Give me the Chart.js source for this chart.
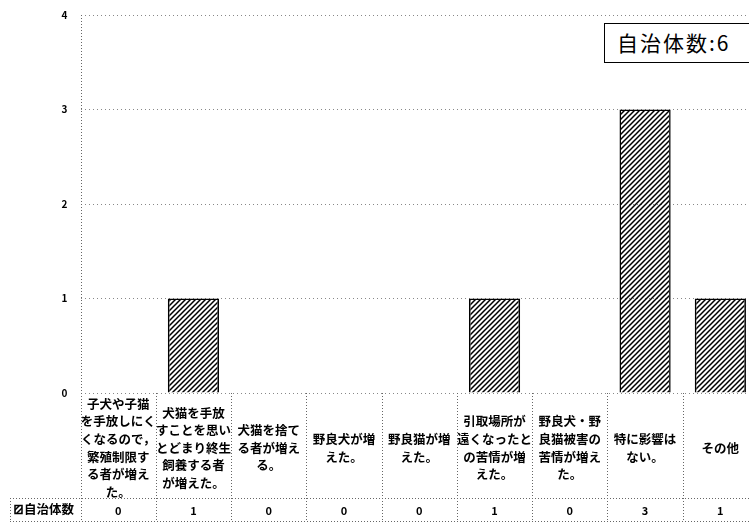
<!DOCTYPE html>
<html>
<head>
<meta charset="utf-8">
<script src="https://cdn.jsdelivr.net/npm/chart.js@4.4.1/dist/chart.umd.min.js"></script>
<style>
  html, body { margin: 0; padding: 0; background: #fff; overflow: hidden; }
  #wrap { position: relative; width: 762px; height: 525px; }
  #total {
    position: absolute; left: 604px; top: 23px; width: 160px; height: 40px;
    box-sizing: border-box; border: 1.5px solid #000; background: #fff;
    font: 21px "Noto Sans CJK JP"; letter-spacing: 2px; line-height: 37px;
    padding-left: 12px; color: #000;
  }
</style>
</head>
<body>
<div id="wrap">
  <canvas id="barChart" width="762" height="525"></canvas>
  <div id="total"></div>
</div>
<script>
// data
const categories = [
  ['子犬や子猫', 'を手放しにく', 'くなるので，', '繁殖制限す', 'る者が増え', 'た。'],
  ['犬猫を手放', 'すことを思い', 'とどまり終生', '飼養する者', 'が増えた。'],
  ['犬猫を捨て', 'る者が増え', 'る。'],
  ['野良犬が増', 'えた。'],
  ['野良猫が増', 'えた。'],
  ['引取場所が', '遠くなったと', 'の苦情が増', 'えた。'],
  ['野良犬・野', '良猫被害の', '苦情が増え', 'た。'],
  ['特に影響は', 'ない。'],
  ['その他']
];
const counts = [0, 1, 0, 0, 0, 1, 0, 3, 1];
const seriesName = '自治体数';
const totalText = '自治体数:6';
const yMin = 0, yMax = 4, yStep = 1;

document.getElementById('total').textContent = totalText;

const canvas = document.getElementById('barChart');
const ctx = canvas.getContext('2d');

// diagonal hatch like the printed chart
function makeHatch() {
  const c = document.createElement('canvas');
  c.width = 5; c.height = 5;
  const g = c.getContext('2d');
  g.strokeStyle = '#000';
  g.lineWidth = 1.5;
  g.beginPath();
  g.moveTo(-1, 6); g.lineTo(6, -1);
  g.moveTo(-1, 1); g.lineTo(1, -1);
  g.moveTo(4, 6); g.lineTo(6, 4);
  g.stroke();
  return ctx.createPattern(c, 'repeat');
}
const hatch = makeHatch();

const labelFont = { family: 'Noto Sans CJK JP', size: 12.5, weight: 'bold', lineHeight: 1.41 };

// column separators, table rules and row header
const tableLines = {
  id: 'tableLines',
  afterDraw(chart) {
    const { ctx, chartArea, scales: { x, x2 } } = chart;
    const step = x.getPixelForValue(1) - x.getPixelForValue(0);
    const left0 = x.getPixelForValue(0) - step / 2;
    ctx.save();
    ctx.strokeStyle = '#666';
    ctx.lineWidth = 1;
    ctx.setLineDash([1, 2]);
    for (let i = 0; i <= counts.length; i++) {
      const px = Math.round(left0 + i * step) + 0.5;
      ctx.beginPath();
      ctx.moveTo(px, i === 0 ? chartArea.top : chartArea.bottom);
      ctx.lineTo(px, x2.bottom);
      ctx.stroke();
    }
    [x.bottom, x2.bottom].forEach(y => {
      const py = Math.round(y) + 0.5;
      ctx.beginPath();
      ctx.moveTo(10, py);
      ctx.lineTo(chart.width, py);
      ctx.stroke();
    });
    ctx.beginPath();
    ctx.moveTo(10.5, x.bottom);
    ctx.lineTo(10.5, x2.bottom);
    ctx.stroke();
    ctx.setLineDash([]);

    // legend key + series name in the table row
    const midY = (x2.top + x2.bottom) / 2;
    ctx.fillStyle = hatch;
    ctx.fillRect(15, midY - 4, 7, 8);
    ctx.strokeStyle = '#000';
    ctx.lineWidth = 1.5;
    ctx.strokeRect(15, midY - 4, 7, 8);
    ctx.fillStyle = '#000';
    ctx.font = 'bold 12.5px "Noto Sans CJK JP"';
    ctx.textBaseline = 'middle';
    ctx.textAlign = 'left';
    ctx.fillText(seriesName, 24, midY);
    ctx.restore();
  }
};

new Chart(ctx, {
  type: 'bar',
  data: {
    labels: categories,
    datasets: [{
      label: seriesName,
      data: counts,
      backgroundColor: hatch,
      borderColor: '#000',
      borderWidth: 1.5,
      barPercentage: 0.68,
      categoryPercentage: 1
    }]
  },
  options: {
    responsive: false,
    animation: false,
    layout: { padding: { top: 15, right: 4, bottom: 4, left: 0 } },
    plugins: {
      legend: { display: false },
      tooltip: { enabled: false }
    },
    scales: {
      y: {
        min: yMin, max: yMax,
        ticks: { stepSize: yStep, padding: 13, color: '#000',
                 font: { family: 'Noto Sans CJK JP', size: 10, weight: 'bold' } },
        grid: { color: '#888', lineWidth: 1, drawTicks: false },
        border: { display: false, dash: [1, 3] },
        afterFit(s) { s.width = 80.5; s.paddingTop = 0; s.paddingBottom = 0; }
      },
      x: {
        weight: 0,
        grid: { display: false, drawTicks: false },
        border: { display: false },
        ticks: { color: '#000', maxRotation: 0, autoSkip: false, padding: 11,
                 crossAlign: 'center', font: labelFont },
        afterFit(s) { s.height = 105; }
      },
      x2: {
        type: 'category',
        position: 'bottom',
        weight: 1,
        offset: true,
        labels: counts.map(String),
        grid: { display: false, drawTicks: false },
        border: { display: false },
        ticks: { color: '#000', padding: 6, autoSkip: false, maxRotation: 0,
                 font: { family: 'Noto Sans CJK JP', size: 11, weight: 'bold' } },
        afterFit(s) { s.height = 23; }
      }
    }
  },
  plugins: [tableLines]
});
</script>
</body>
</html>
